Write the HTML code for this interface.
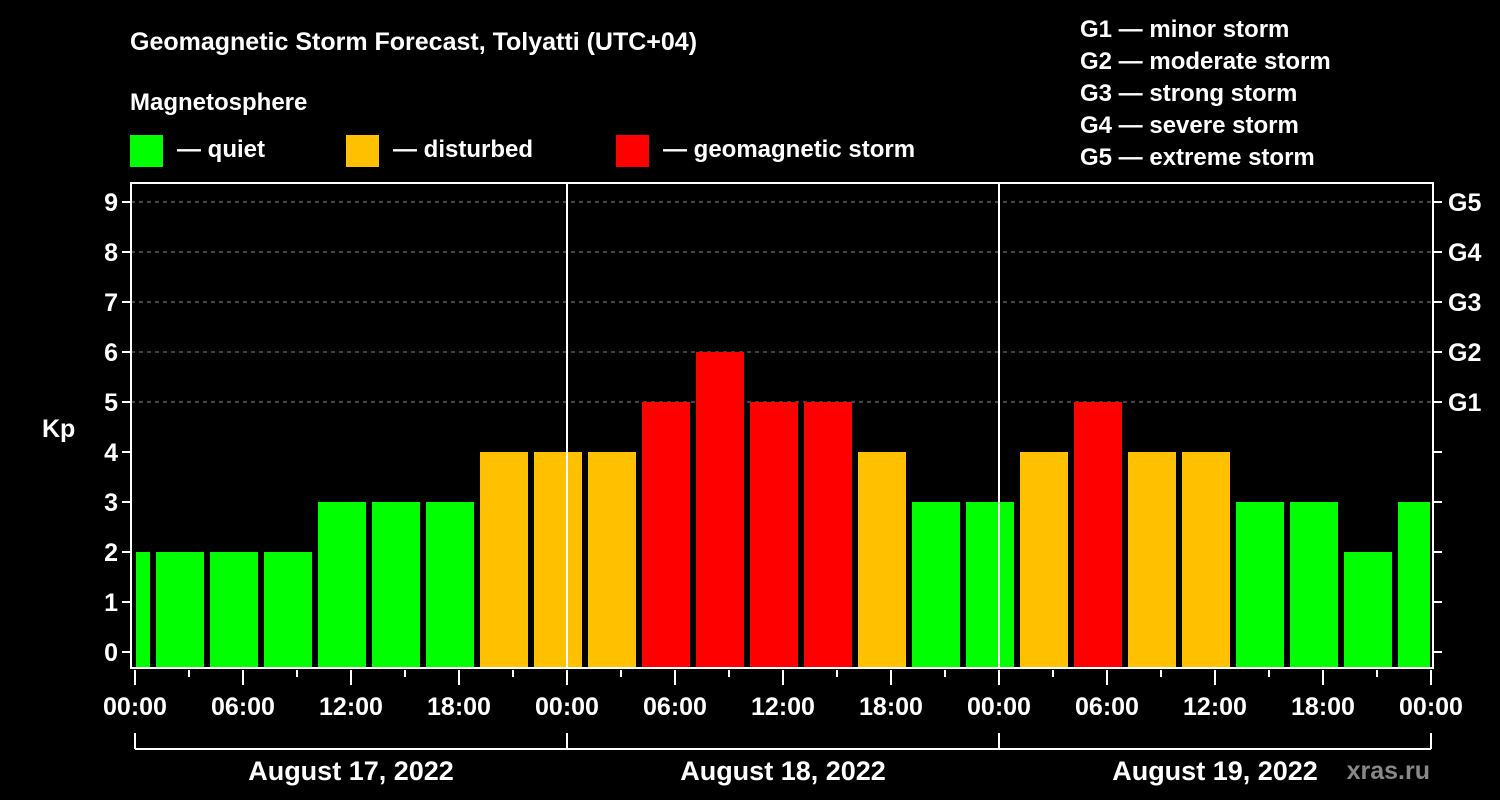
<!DOCTYPE html>
<html><head><meta charset="utf-8"><style>
html,body{margin:0;padding:0;background:#000;}
svg{display:block;font-family:"Liberation Sans",sans-serif;font-weight:bold;}
</style></head><body>
<svg id="chart" width="1500" height="800" viewBox="0 0 1500 800">
<rect x="0" y="0" width="1500" height="800" fill="#000"/>
<text x="130" y="50" fill="#fff" font-size="25">Geomagnetic Storm Forecast, Tolyatti (UTC+04)</text>
<text x="130" y="110" fill="#fff" font-size="24">Magnetosphere</text>
<g><rect x="130" y="135" width="33" height="32" fill="#00ff00"/><text x="177" y="157" fill="#fff" font-size="24">— quiet</text></g>
<g><rect x="346" y="135" width="33" height="32" fill="#ffc000"/><text x="393" y="157" fill="#fff" font-size="24">— disturbed</text></g>
<g><rect x="616" y="135" width="33" height="32" fill="#ff0000"/><text x="663" y="157" fill="#fff" font-size="24">— geomagnetic storm</text></g>
<g fill="#fff" font-size="24">
<text x="1080" y="37">G1 — minor storm</text>
<text x="1080" y="69">G2 — moderate storm</text>
<text x="1080" y="101">G3 — strong storm</text>
<text x="1080" y="133">G4 — severe storm</text>
<text x="1080" y="165">G5 — extreme storm</text>
</g>
<text x="42" y="437" fill="#fff" font-size="25">Kp</text>
<text x="1430" y="779" fill="#888" font-size="25" text-anchor="end">xras.ru</text>
<g id="grid"></g><g id="bars"></g><g id="axes"></g>
</svg>
<script>
const kpValues=[2,2,2,2,3,3,3,4,4,4,5,6,5,5,4,3,3,4,5,4,4,3,3,2,3];
const slotStartHours=[-2,1,4,7,10,13,16,19,22,25,28,31,34,37,40,43,46,49,52,55,58,61,64,67,70];
const yTicks=[0,1,2,3,4,5,6,7,8,9];
const gLabels=["G1","G2","G3","G4","G5"];
const gLevels=[5,6,7,8,9];
const xTickLabels=["00:00","06:00","12:00","18:00","00:00","06:00","12:00","18:00","00:00","06:00","12:00","18:00","00:00"];
const dayLabels=["August 17, 2022","August 18, 2022","August 19, 2022"];
const NS="http://www.w3.org/2000/svg";
const X0=135,PXH=18,Y0=652,PXK=50,LEFT=131,RIGHT=1433,TOP=183,BOT=668;
const xs=h=>X0+h*PXH, ys=k=>Y0-k*PXK;
function mk(tag,attrs,parent){const e=document.createElementNS(NS,tag);for(const k in attrs)e.setAttribute(k,attrs[k]);parent.appendChild(e);return e;}
const grid=document.getElementById('grid'),bars=document.getElementById('bars'),axes=document.getElementById('axes');
gLevels.forEach(k=>{const l=mk('line',{x1:LEFT,x2:RIGHT,y1:ys(k),y2:ys(k),stroke:'#888','stroke-dasharray':'4,4','stroke-width':1},grid);

});
kpValues.forEach((v,i)=>{let a=xs(slotStartHours[i])+3,b=xs(slotStartHours[i]+3)-3;a=Math.max(a,X0+1);b=Math.min(b,xs(72)-1);
const c=v>=5?'#ff0000':(v>=4?'#ffc000':'#00ff00');
const r=mk('rect',{x:a,y:ys(v),width:b-a,height:BOT-ys(v),fill:c},bars);

});
[24,48].forEach(h=>{const l=mk('line',{x1:xs(h),x2:xs(h),y1:TOP,y2:BOT,stroke:'#fff','stroke-width':2},axes);

});
const fr=mk('rect',{x:LEFT,y:TOP,width:RIGHT-LEFT,height:BOT-TOP,fill:'none',stroke:'#fff','stroke-width':2},axes);


yTicks.forEach(k=>{mk('line',{x1:LEFT-9,x2:LEFT,y1:ys(k),y2:ys(k),stroke:'#fff','stroke-width':2},axes);
mk('line',{x1:RIGHT,x2:RIGHT+9,y1:ys(k),y2:ys(k),stroke:'#fff','stroke-width':2},axes);
const t=mk('text',{x:LEFT-13,y:ys(k)+9,fill:'#fff','font-size':25,'text-anchor':'end'},axes);t.textContent=k;

});
gLabels.forEach((g,i)=>{const t=mk('text',{x:RIGHT+15,y:ys(gLevels[i])+9,fill:'#fff','font-size':25},axes);t.textContent=g;

});
for(let h=0;h<=72;h+=3){const major=h%6===0;mk('line',{x1:xs(h),x2:xs(h),y1:BOT+2,y2:BOT+(major?17:9),stroke:'#fff','stroke-width':2},axes);}
xTickLabels.forEach((s,i)=>{const t=mk('text',{x:xs(i*6),y:715,fill:'#fff','font-size':25,'text-anchor':'middle'},axes);t.textContent=s;

});
mk('line',{x1:xs(0),x2:xs(72),y1:749,y2:749,stroke:'#fff','stroke-width':2},axes);
for(let d=0;d<=3;d++)mk('line',{x1:xs(d*24),x2:xs(d*24),y1:733,y2:749,stroke:'#fff','stroke-width':2},axes);
dayLabels.forEach((s,i)=>{const t=mk('text',{x:xs(i*24+12),y:780,fill:'#fff','font-size':27,'text-anchor':'middle'},axes);t.textContent=s;

});
</script>
</body></html>
